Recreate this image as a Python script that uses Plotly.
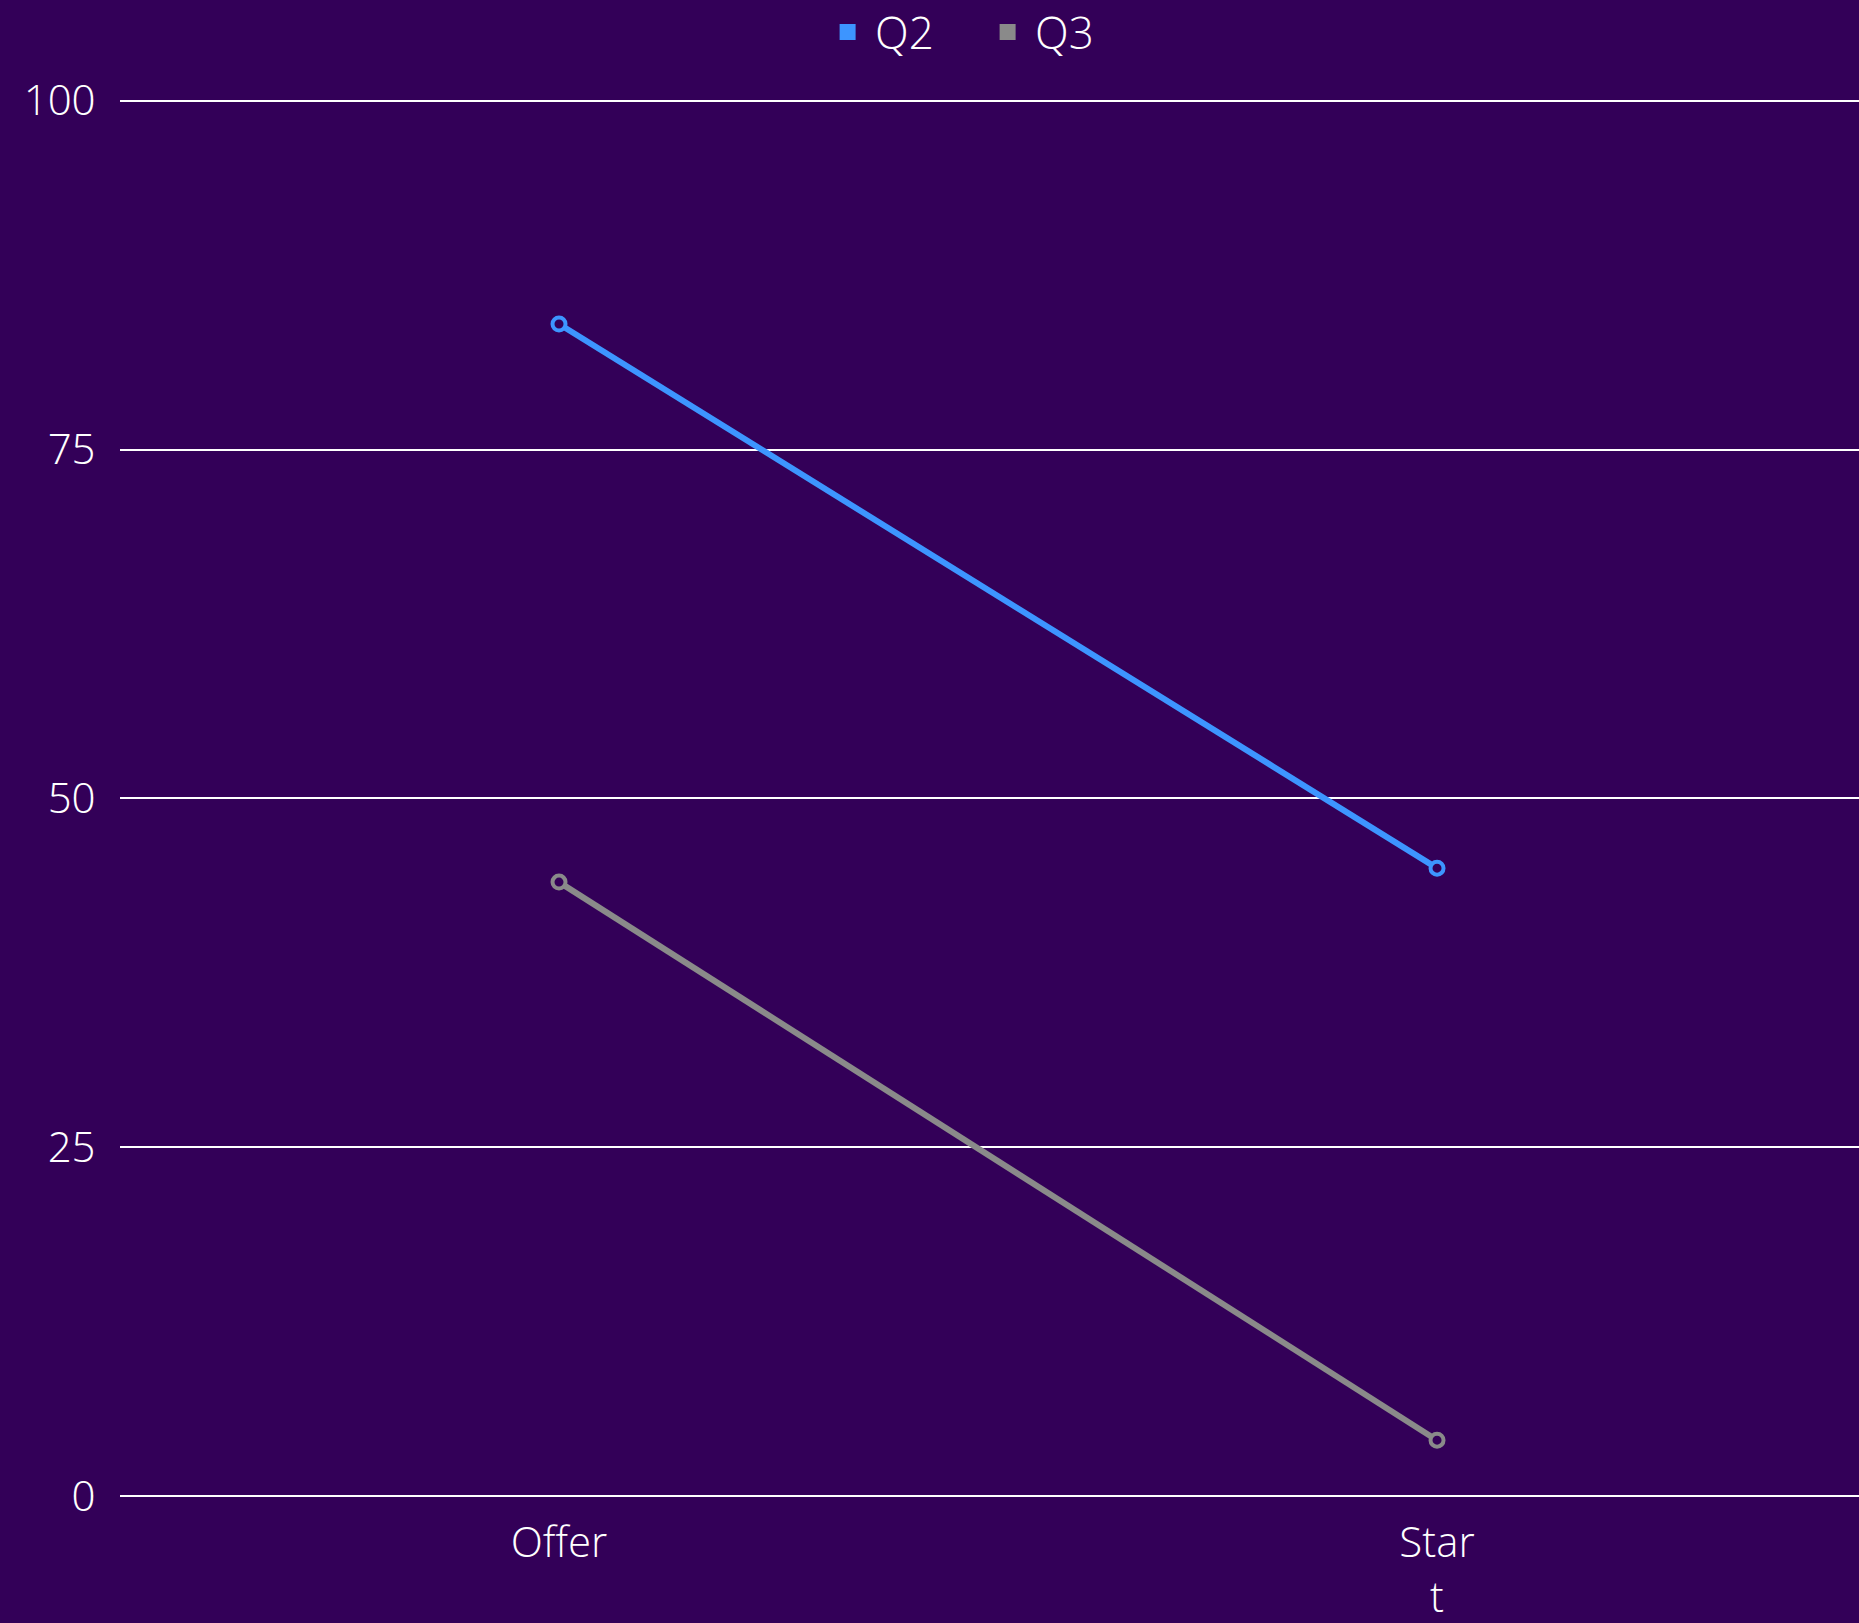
import plotly.graph_objects as go

# Stages along the x axis and the two quarterly series
stages = ["Offer", "Start"]
stage_labels = ["Offer", "Star<br>t"]
q2_values = [84, 45]
q3_values = [44, 4]
y_ticks = [0, 25, 50, 75, 100]

BG = "#330058"
BLUE = "#3d95ff"
GREY = "#8a8a8a"
FONT = "Open Sans Light, Open Sans"

fig = go.Figure()

for name, vals, color in [("Q2", q2_values, BLUE), ("Q3", q3_values, GREY)]:
    fig.add_trace(go.Scatter(
        x=stages, y=vals, mode="lines+markers", name=name, showlegend=False,
        line=dict(color=color, width=6),
        marker=dict(size=13, color=BG, line=dict(color=color, width=4)),
    ))
    # square swatch used for the legend entry
    fig.add_trace(go.Scatter(
        x=[None], y=[None], mode="markers", name=name,
        marker=dict(symbol="square", size=26, color=color),
    ))

# top of the y range is nudged up slightly so the 100 gridline is drawn
Y_TOP = 100.2
fig.update_layout(
    width=1859, height=1623,
    paper_bgcolor=BG, plot_bgcolor=BG,
    margin=dict(l=120, r=0, t=98, b=127, autoexpand=False),
    font=dict(family=FONT, color="white", size=42, weight=300),
    showlegend=True,
    legend=dict(
        orientation="h", x=0.4946, xanchor="center", y=1.047, yanchor="middle",
        font=dict(size=44, color="white", family=FONT, weight=300),
        bgcolor="rgba(0,0,0,0)", itemwidth=45,
        entrywidth=100, entrywidthmode="pixels",
    ),
    xaxis=dict(
        type="category", range=[-0.5, 1.4806], automargin=False,
        tickvals=stages, ticktext=stage_labels,
        showgrid=False, zeroline=False, showline=False,
        ticks="outside", ticklen=10, tickcolor=BG,
        tickfont=dict(size=42, color="white"),
    ),
    yaxis=dict(
        range=[0, Y_TOP], tickvals=y_ticks, automargin=False,
        showgrid=True, gridcolor="white", gridwidth=2,
        zeroline=True, zerolinecolor="white", zerolinewidth=2,
        showline=False,
        ticks="outside", ticklen=15, tickcolor=BG,
        tickfont=dict(size=42, color="white"),
    ),
)

fig.write_html("out.html")
